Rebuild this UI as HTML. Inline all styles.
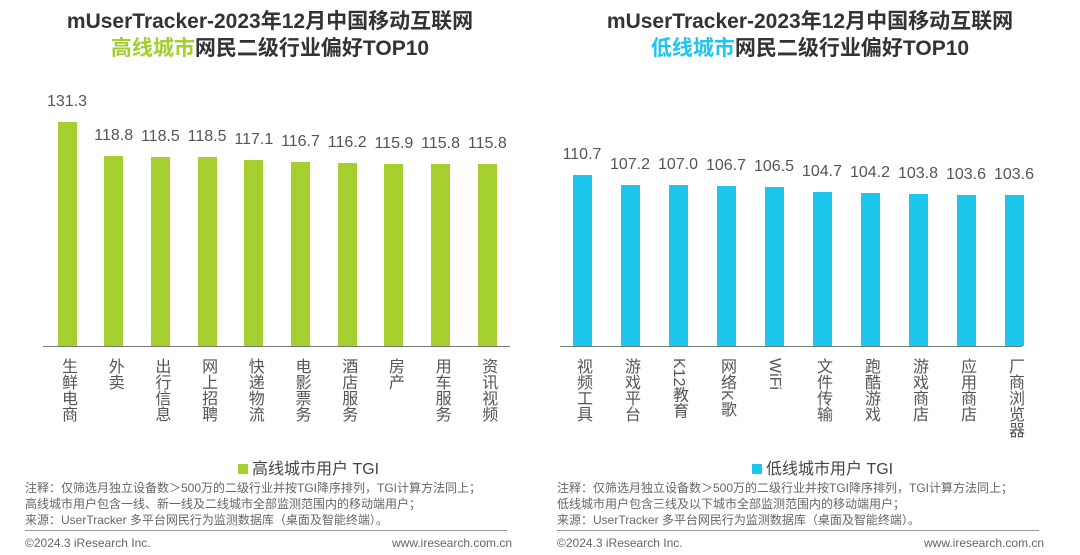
<!DOCTYPE html>
<html><head><meta charset="utf-8"><style>
body{margin:0;width:1080px;height:555px;background:#fff;font-family:"Liberation Sans","Noto Sans CJK SC",sans-serif;color:#555;position:relative;overflow:hidden}
.a{position:absolute}
.t{font-weight:bold;font-size:21px;color:#333;text-align:center;width:540px;line-height:27px}
.bar{position:absolute;width:19px}
.v{position:absolute;font-size:16px;width:60px;text-align:center;color:#555}
.lab{position:absolute;writing-mode:vertical-rl;font-size:16px;line-height:18px;top:358px;color:#555}
.note{font-size:12px;line-height:16px;color:#666}
</style></head><body>
<div class="a t" style="left:0;top:8px">mUserTracker-2023年12月中国移动互联网<br><span style="color:#a5cf2e">高线城市</span>网民二级行业偏好TOP10</div>
<div class="a t" style="left:540px;top:8px">mUserTracker-2023年12月中国移动互联网<br><span style="color:#1ec6ee">低线城市</span>网民二级行业偏好TOP10</div>
<div class="a" style="left:43px;top:346px;width:467px;height:1px;background:#777"></div>
<div class="a" style="left:560px;top:346px;width:462px;height:1px;background:#777"></div>
<div id="c"></div>
<div class="a" style="left:238px;top:455px;font-size:16px;color:#444"><span style="display:inline-block;width:10px;height:10px;background:#a5cf2e;margin-right:4px"></span>高线城市用户 TGI</div>
<div class="a" style="left:752px;top:455px;font-size:16px;color:#444"><span style="display:inline-block;width:10px;height:10px;background:#1ec6ee;margin-right:4px"></span>低线城市用户 TGI</div>
<div class="a note" style="left:25px;top:480px">注释：仅筛选月独立设备数＞500万的二级行业并按TGI降序排列，TGI计算方法同上；<br>高线城市用户包含一线、新一线及二线城市全部监测范围内的移动端用户；<br>来源：UserTracker 多平台网民行为监测数据库（桌面及智能终端）。</div>
<div class="a note" style="left:557px;top:480px">注释：仅筛选月独立设备数＞500万的二级行业并按TGI降序排列，TGI计算方法同上；<br>低线城市用户包含三线及以下城市全部监测范围内的移动端用户；<br>来源：UserTracker 多平台网民行为监测数据库（桌面及智能终端）。</div>
<div class="a" style="left:25px;top:530px;width:482px;height:1px;background:#999"></div>
<div class="a" style="left:557px;top:530px;width:482px;height:1px;background:#999"></div>
<div class="a note" style="left:25px;top:535px;font-size:12px">©2024.3 iResearch Inc.</div>
<div class="a note" style="left:392px;top:535px;font-size:12px">www.iresearch.com.cn</div>
<div class="a note" style="left:557px;top:535px;font-size:12px">©2024.3 iResearch Inc.</div>
<div class="a note" style="left:924px;top:535px;font-size:12px">www.iresearch.com.cn</div>
<script>
var c=document.getElementById('c'),h='';
function draw(x0,dx,vals,labs,col,a,v0){
for(var i=0;i<10;i++){var cx=x0+dx*i,top=346-a*(vals[i]-v0);
h+='<div class="bar" style="left:'+(cx-9.5)+'px;top:'+top+'px;height:'+(346-top)+'px;background:'+col+'"></div>';
h+='<div class="v" style="left:'+(cx-30)+'px;top:'+(top-29)+'px">'+vals[i].toFixed(1)+'</div>';
h+='<div class="lab" style="left:'+(cx-9)+'px">'+labs[i]+'</div>';}}
draw(67,46.7,[131.3,118.8,118.5,118.5,117.1,116.7,116.2,115.9,115.8,115.8],['生鲜电商','外卖','出行信息','网上招聘','快递物流','电影票务','酒店服务','房产','用车服务','资讯视频'],'#a5cf2e',2.72,48.9);
draw(582,48,[110.7,107.2,107.0,106.7,106.5,104.7,104.2,103.8,103.6,103.6],['视频工具','游戏平台','K12教育','网络K歌','WiFi','文件传输','跑酷游戏','游戏商店','应用商店','厂商浏览器'],'#1ec6ee',2.8,49.6);
c.innerHTML=h;
</script>
</body></html>
